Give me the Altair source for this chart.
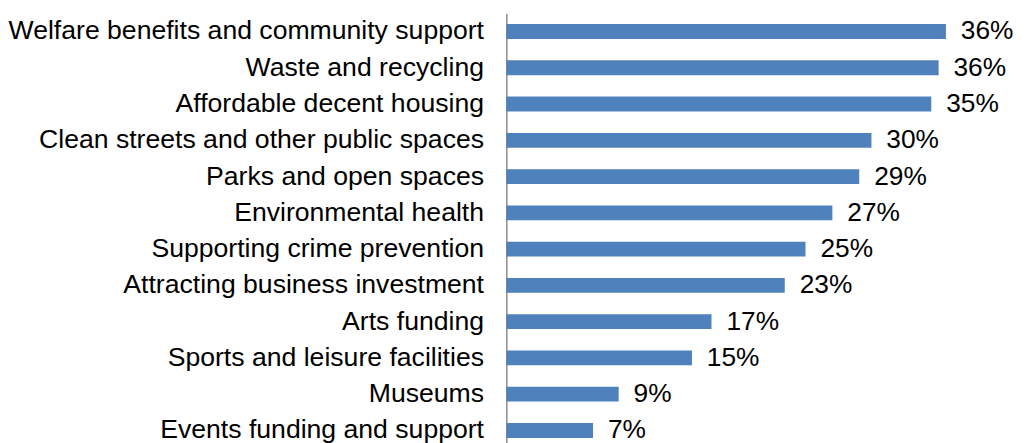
import altair as alt
import pandas as pd

categories = [
    "Welfare benefits and community support",
    "Waste and recycling",
    "Affordable decent housing",
    "Clean streets and other public spaces",
    "Parks and open spaces",
    "Environmental health",
    "Supporting crime prevention",
    "Attracting business investment",
    "Arts funding",
    "Sports and leisure facilities",
    "Museums",
    "Events funding and support",
]
values = [36.0, 35.4, 34.8, 29.9, 28.9, 26.7, 24.5, 22.8, 16.8, 15.2, 9.2, 7.1]
labels = ["36%", "36%", "35%", "30%", "29%", "27%", "25%", "23%", "17%", "15%", "9%", "7%"]

df = pd.DataFrame({"category": categories, "value": values, "label": labels})

FONT = "Liberation Sans"

y = alt.Y(
    "category:N",
    sort=categories,
    scale=alt.Scale(paddingInner=0.59, paddingOuter=0.29),
    axis=alt.Axis(
        title=None,
        ticks=False,
        domain=True,
        domainColor="#8c8c8c",
        domainWidth=1.5,
        labelFont=FONT,
        labelFontSize=26.8,
        labelColor="#000000",
        labelPadding=23,
        labelLimit=0,
    ),
)
x = alt.X(
    "value:Q",
    scale=alt.Scale(domain=[0, 38], nice=False),
    axis=None,
)

bars = alt.Chart(df).mark_bar(color="#4F81BD").encode(x=x, y=y)
text = alt.Chart(df).mark_text(
    align="left", baseline="middle", dx=15, font=FONT, fontSize=26.5, color="#000000"
).encode(x=x, y=y, text="label:N")

chart = (
    (bars + text)
    .properties(
        width=467.4,
        height=438,
        autosize="none",
        padding={"left": 502, "top": 4, "right": 49, "bottom": 0},
    )
    .configure_view(stroke=None)
)

chart.save("out.html", embed_options={"renderer": "svg", "actions": False})
